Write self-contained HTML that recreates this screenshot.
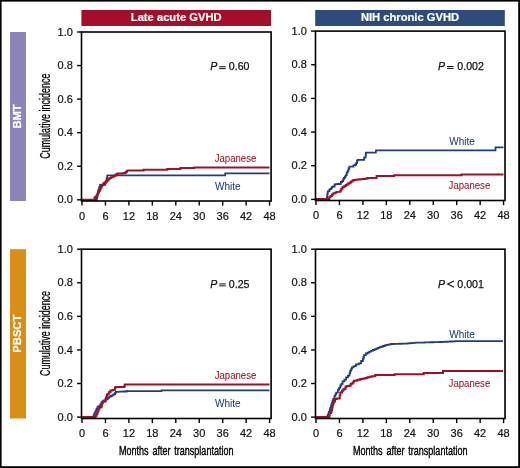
<!DOCTYPE html>
<html><head><meta charset="utf-8"><style>
html,body{margin:0;padding:0;background:#fff;width:520px;height:468px;overflow:hidden}
svg{display:block;will-change:transform}
text{font-family:"Liberation Sans", sans-serif}
.hb{font-size:11.2px;font-weight:bold;fill:#fff;stroke:#fff;stroke-width:0.2px}
.tk{font-size:11px;fill:#111;stroke:#111;stroke-width:0.2px}
.yt{font-size:14px;fill:#000;stroke:#000;stroke-width:0.25px}
.xt{font-size:13.2px;fill:#000;stroke:#000;stroke-width:0.4px;word-spacing:2px}
.pv{font-size:10.6px;fill:#111;stroke:#111;stroke-width:0.25px}
.lg{font-size:10px;stroke-width:0.05px}
</style></head><body>
<svg width="520" height="468" viewBox="0 0 520 468">
<rect x="0" y="0" width="520" height="1.6" fill="#000"/>
<rect x="0" y="0" width="1.6" height="468" fill="#000"/>
<rect x="518.2" y="0" width="1.8" height="468" fill="#000"/>
<rect x="0" y="466.2" width="520" height="1.8" fill="#000"/>
<rect x="81.4" y="10" width="189.6" height="16" fill="#a50e2b"/>
<rect x="315.2" y="10" width="189.6" height="16" fill="#2e4c7a"/>
<text x="176.2" y="21.4" text-anchor="middle" class="hb">Late acute GVHD</text>
<text x="410" y="21.4" text-anchor="middle" class="hb">NIH chronic GVHD</text>
<rect x="10" y="32" width="16" height="169" fill="#8b85b9"/>
<rect x="10" y="249.2" width="16" height="169.3" fill="#d98e16"/>
<text transform="translate(21.3 116.5) rotate(-90)" text-anchor="middle" class="hb">BMT</text>
<text transform="translate(21.3 333.7) rotate(-90)" text-anchor="middle" class="hb">PBSCT</text>
<polyline points="82.00,199.80 95.70,199.80 96.90,199.80 96.90,197.50 97.30,197.50 97.30,195.05 97.70,195.05 97.70,192.60 98.10,192.60 98.10,191.00 98.50,191.00 98.50,189.40 99.30,189.40 99.30,186.90 100.10,186.90 100.10,184.90 101.00,184.90 101.00,184.60 104.80,184.80 105.30,184.80 105.30,183.00 105.80,183.00 105.80,181.20 106.60,181.20 106.60,178.40 107.20,178.40 107.20,175.60 107.90,175.40 225.20,175.40 225.20,173.30 269.50,173.30" fill="none" stroke="#223f74" stroke-width="1.8" stroke-linejoin="miter"/>
<polyline points="82.00,199.70 94.10,199.70 94.50,199.70 94.50,197.90 95.30,197.90 95.30,196.70 96.50,196.70 96.50,195.80 97.30,195.80 97.30,194.20 98.10,194.20 98.10,192.60 98.90,192.60 98.90,191.00 99.70,191.00 99.70,189.40 100.60,189.40 100.60,187.70 101.40,187.70 101.40,186.30 102.20,186.30 102.20,184.90 103.40,184.90 103.40,183.30 104.60,183.30 104.60,182.50 105.80,182.50 105.80,181.60 107.00,181.60 107.00,180.40 108.30,180.40 108.30,179.20 109.50,179.20 109.50,178.00 111.10,178.00 111.10,177.20 112.70,177.20 112.70,176.40 114.40,176.40 114.40,175.60 116.00,175.60 116.00,174.30 117.60,174.30 117.60,173.50 120.80,173.40 122.45,173.40 122.45,173.25 124.10,173.25 124.10,173.10 125.70,173.10 125.70,171.90 126.90,171.90 126.90,170.70 128.10,170.40 143.50,170.40 143.50,169.70 167.30,169.70 167.30,168.90 180.40,168.90 180.40,168.10 194.20,168.10 194.20,167.40 269.50,167.40" fill="none" stroke="#9e1229" stroke-width="2.0" stroke-linejoin="miter"/>
<rect x="81.5" y="32.0" width="189.60000000000002" height="169.0" fill="none" stroke="#000" stroke-width="1.6"/>
<line x1="77.1" y1="199.80" x2="81.5" y2="199.80" stroke="#000" stroke-width="1.4"/>
<text x="72.9" y="203.40" text-anchor="end" class="tk">0.0</text>
<line x1="77.1" y1="166.24" x2="81.5" y2="166.24" stroke="#000" stroke-width="1.4"/>
<text x="72.9" y="169.84" text-anchor="end" class="tk">0.2</text>
<line x1="77.1" y1="132.68" x2="81.5" y2="132.68" stroke="#000" stroke-width="1.4"/>
<text x="72.9" y="136.28" text-anchor="end" class="tk">0.4</text>
<line x1="77.1" y1="99.12" x2="81.5" y2="99.12" stroke="#000" stroke-width="1.4"/>
<text x="72.9" y="102.72" text-anchor="end" class="tk">0.6</text>
<line x1="77.1" y1="65.56" x2="81.5" y2="65.56" stroke="#000" stroke-width="1.4"/>
<text x="72.9" y="69.16" text-anchor="end" class="tk">0.8</text>
<line x1="77.1" y1="32.00" x2="81.5" y2="32.00" stroke="#000" stroke-width="1.4"/>
<text x="72.9" y="35.60" text-anchor="end" class="tk">1.0</text>
<line x1="82.00" y1="201.0" x2="82.00" y2="205.6" stroke="#000" stroke-width="1.4"/>
<text x="82.00" y="219.80" text-anchor="middle" class="tk">0</text>
<line x1="105.45" y1="201.0" x2="105.45" y2="205.6" stroke="#000" stroke-width="1.4"/>
<text x="105.45" y="219.80" text-anchor="middle" class="tk">6</text>
<line x1="128.90" y1="201.0" x2="128.90" y2="205.6" stroke="#000" stroke-width="1.4"/>
<text x="128.90" y="219.80" text-anchor="middle" class="tk">12</text>
<line x1="152.34" y1="201.0" x2="152.34" y2="205.6" stroke="#000" stroke-width="1.4"/>
<text x="152.34" y="219.80" text-anchor="middle" class="tk">18</text>
<line x1="175.79" y1="201.0" x2="175.79" y2="205.6" stroke="#000" stroke-width="1.4"/>
<text x="175.79" y="219.80" text-anchor="middle" class="tk">24</text>
<line x1="199.24" y1="201.0" x2="199.24" y2="205.6" stroke="#000" stroke-width="1.4"/>
<text x="199.24" y="219.80" text-anchor="middle" class="tk">30</text>
<line x1="222.69" y1="201.0" x2="222.69" y2="205.6" stroke="#000" stroke-width="1.4"/>
<text x="222.69" y="219.80" text-anchor="middle" class="tk">36</text>
<line x1="246.14" y1="201.0" x2="246.14" y2="205.6" stroke="#000" stroke-width="1.4"/>
<text x="246.14" y="219.80" text-anchor="middle" class="tk">42</text>
<line x1="269.58" y1="201.0" x2="269.58" y2="205.6" stroke="#000" stroke-width="1.4"/>
<text x="269.58" y="219.80" text-anchor="middle" class="tk">48</text>
<polyline points="316.00,199.20 326.90,199.20 326.90,197.70 327.15,197.70 327.15,195.65 327.40,195.65 327.40,193.60 327.80,193.60 327.80,191.40 329.20,191.40 329.20,190.50 329.60,190.50 329.60,189.10 331.00,189.10 331.00,188.30 331.90,188.30 331.90,186.90 333.20,186.90 333.20,186.50 334.60,186.50 334.60,184.70 335.50,184.70 335.50,184.20 337.70,184.20 337.70,184.00 339.90,184.00 339.90,183.80 340.80,183.80 340.80,182.00 342.20,182.00 342.20,181.10 343.10,181.10 343.10,179.30 344.00,179.30 344.00,177.90 344.90,177.90 344.90,176.60 345.80,176.60 345.80,175.20 346.70,175.20 346.70,172.60 347.60,172.60 347.60,170.80 348.50,170.80 348.50,168.50 349.40,168.50 349.40,166.70 352.50,166.70 353.40,166.70 353.40,165.40 355.20,165.40 355.20,164.50 356.10,164.50 356.10,163.10 357.00,163.10 357.00,160.90 357.60,160.90 357.60,159.90 363.70,159.90 364.10,159.90 364.10,157.60 365.50,157.60 365.50,156.70 365.70,156.70 365.70,154.65 365.90,154.65 365.90,152.60 375.80,152.60 376.00,150.40 495.50,150.40 495.50,147.30 503.50,147.30" fill="none" stroke="#223f74" stroke-width="1.8" stroke-linejoin="miter"/>
<polyline points="316.00,198.90 328.30,198.90 329.20,198.90 329.20,197.20 330.50,197.20 330.50,195.90 331.90,195.90 331.90,194.50 333.20,194.50 333.20,193.60 334.60,193.60 334.60,192.70 336.30,192.70 336.30,192.10 339.50,191.80 340.40,191.80 340.40,190.50 341.30,190.50 341.30,188.70 342.60,188.70 342.60,186.90 344.40,186.90 344.40,186.00 345.80,186.00 345.80,185.10 347.10,185.10 347.10,184.20 348.50,184.20 348.50,183.30 349.80,183.30 349.80,182.40 351.10,182.40 351.10,181.50 352.50,181.50 352.50,180.60 353.80,180.60 353.80,180.00 355.60,180.00 355.60,179.80 357.40,179.80 357.40,179.60 360.10,179.60 360.10,179.35 362.80,179.35 362.80,179.10 364.55,179.10 364.55,178.85 366.30,178.85 366.30,178.60 367.70,178.60 367.70,177.90 376.60,177.90 376.60,176.00 394.00,176.00 394.00,175.20 461.50,175.20 461.50,174.40 503.50,174.40" fill="none" stroke="#9e1229" stroke-width="2.0" stroke-linejoin="miter"/>
<rect x="315.5" y="31.1" width="189.5" height="169.4" fill="none" stroke="#000" stroke-width="1.6"/>
<line x1="311.1" y1="199.40" x2="315.5" y2="199.40" stroke="#000" stroke-width="1.4"/>
<text x="306.9" y="203.00" text-anchor="end" class="tk">0.0</text>
<line x1="311.1" y1="165.74" x2="315.5" y2="165.74" stroke="#000" stroke-width="1.4"/>
<text x="306.9" y="169.34" text-anchor="end" class="tk">0.2</text>
<line x1="311.1" y1="132.08" x2="315.5" y2="132.08" stroke="#000" stroke-width="1.4"/>
<text x="306.9" y="135.68" text-anchor="end" class="tk">0.4</text>
<line x1="311.1" y1="98.42" x2="315.5" y2="98.42" stroke="#000" stroke-width="1.4"/>
<text x="306.9" y="102.02" text-anchor="end" class="tk">0.6</text>
<line x1="311.1" y1="64.76" x2="315.5" y2="64.76" stroke="#000" stroke-width="1.4"/>
<text x="306.9" y="68.36" text-anchor="end" class="tk">0.8</text>
<line x1="311.1" y1="31.10" x2="315.5" y2="31.10" stroke="#000" stroke-width="1.4"/>
<text x="306.9" y="34.70" text-anchor="end" class="tk">1.0</text>
<line x1="316.00" y1="200.5" x2="316.00" y2="205.1" stroke="#000" stroke-width="1.4"/>
<text x="316.00" y="219.30" text-anchor="middle" class="tk">0</text>
<line x1="339.45" y1="200.5" x2="339.45" y2="205.1" stroke="#000" stroke-width="1.4"/>
<text x="339.45" y="219.30" text-anchor="middle" class="tk">6</text>
<line x1="362.90" y1="200.5" x2="362.90" y2="205.1" stroke="#000" stroke-width="1.4"/>
<text x="362.90" y="219.30" text-anchor="middle" class="tk">12</text>
<line x1="386.34" y1="200.5" x2="386.34" y2="205.1" stroke="#000" stroke-width="1.4"/>
<text x="386.34" y="219.30" text-anchor="middle" class="tk">18</text>
<line x1="409.79" y1="200.5" x2="409.79" y2="205.1" stroke="#000" stroke-width="1.4"/>
<text x="409.79" y="219.30" text-anchor="middle" class="tk">24</text>
<line x1="433.24" y1="200.5" x2="433.24" y2="205.1" stroke="#000" stroke-width="1.4"/>
<text x="433.24" y="219.30" text-anchor="middle" class="tk">30</text>
<line x1="456.69" y1="200.5" x2="456.69" y2="205.1" stroke="#000" stroke-width="1.4"/>
<text x="456.69" y="219.30" text-anchor="middle" class="tk">36</text>
<line x1="480.14" y1="200.5" x2="480.14" y2="205.1" stroke="#000" stroke-width="1.4"/>
<text x="480.14" y="219.30" text-anchor="middle" class="tk">42</text>
<line x1="503.58" y1="200.5" x2="503.58" y2="205.1" stroke="#000" stroke-width="1.4"/>
<text x="503.58" y="219.30" text-anchor="middle" class="tk">48</text>
<polyline points="82.00,417.10 92.60,417.10 92.90,417.10 92.90,416.60 93.80,416.60 93.80,414.40 94.70,414.40 94.70,412.60 95.60,412.60 95.60,410.80 96.50,410.80 96.50,409.00 97.40,409.00 97.40,407.20 98.30,407.20 98.30,406.30 99.70,406.30 99.70,405.40 100.60,405.40 100.60,404.10 101.50,404.10 101.50,402.30 102.40,402.30 102.40,401.40 103.70,401.40 103.70,400.50 105.50,400.50 105.50,399.30 107.80,399.30 107.80,397.80 109.10,397.80 109.10,396.90 110.50,396.90 110.50,396.00 112.30,396.00 112.30,395.10 113.60,395.10 113.60,394.20 115.00,394.20 115.00,392.80 115.90,392.80 115.90,391.90 118.50,391.90 120.30,391.70 123.90,391.50 126.60,391.50 126.60,391.00 129.30,391.10 161.50,391.10 161.50,390.40 269.50,390.40" fill="none" stroke="#223f74" stroke-width="1.8" stroke-linejoin="miter"/>
<polyline points="82.00,417.10 94.70,417.10 95.60,417.10 95.60,415.70 96.50,415.70 96.50,413.90 97.40,413.90 97.40,411.70 98.30,411.70 98.30,409.40 99.20,409.40 99.20,407.60 100.60,407.60 100.60,407.20 101.50,407.20 101.50,405.40 101.90,405.40 101.90,403.20 102.80,403.20 102.80,401.80 104.20,401.80 104.20,401.40 105.50,401.40 105.50,399.60 105.95,399.60 105.95,398.00 106.40,398.00 106.40,396.40 106.90,396.40 106.90,394.60 108.20,394.60 108.20,393.70 109.10,393.70 109.10,391.90 110.50,391.90 110.50,390.60 112.30,390.60 112.30,390.10 113.60,390.10 113.60,389.70 115.00,389.70 115.00,387.90 115.40,387.90 115.40,387.00 123.00,387.00 123.90,387.00 123.90,386.50 124.80,386.50 124.80,384.50 269.50,384.50" fill="none" stroke="#9e1229" stroke-width="2.0" stroke-linejoin="miter"/>
<rect x="81.5" y="249.2" width="189.60000000000002" height="169.3" fill="none" stroke="#000" stroke-width="1.6"/>
<line x1="77.1" y1="417.10" x2="81.5" y2="417.10" stroke="#000" stroke-width="1.4"/>
<text x="72.9" y="420.70" text-anchor="end" class="tk">0.0</text>
<line x1="77.1" y1="383.52" x2="81.5" y2="383.52" stroke="#000" stroke-width="1.4"/>
<text x="72.9" y="387.12" text-anchor="end" class="tk">0.2</text>
<line x1="77.1" y1="349.94" x2="81.5" y2="349.94" stroke="#000" stroke-width="1.4"/>
<text x="72.9" y="353.54" text-anchor="end" class="tk">0.4</text>
<line x1="77.1" y1="316.36" x2="81.5" y2="316.36" stroke="#000" stroke-width="1.4"/>
<text x="72.9" y="319.96" text-anchor="end" class="tk">0.6</text>
<line x1="77.1" y1="282.78" x2="81.5" y2="282.78" stroke="#000" stroke-width="1.4"/>
<text x="72.9" y="286.38" text-anchor="end" class="tk">0.8</text>
<line x1="77.1" y1="249.20" x2="81.5" y2="249.20" stroke="#000" stroke-width="1.4"/>
<text x="72.9" y="252.80" text-anchor="end" class="tk">1.0</text>
<line x1="82.00" y1="418.5" x2="82.00" y2="423.1" stroke="#000" stroke-width="1.4"/>
<text x="82.00" y="437.30" text-anchor="middle" class="tk">0</text>
<line x1="105.45" y1="418.5" x2="105.45" y2="423.1" stroke="#000" stroke-width="1.4"/>
<text x="105.45" y="437.30" text-anchor="middle" class="tk">6</text>
<line x1="128.90" y1="418.5" x2="128.90" y2="423.1" stroke="#000" stroke-width="1.4"/>
<text x="128.90" y="437.30" text-anchor="middle" class="tk">12</text>
<line x1="152.34" y1="418.5" x2="152.34" y2="423.1" stroke="#000" stroke-width="1.4"/>
<text x="152.34" y="437.30" text-anchor="middle" class="tk">18</text>
<line x1="175.79" y1="418.5" x2="175.79" y2="423.1" stroke="#000" stroke-width="1.4"/>
<text x="175.79" y="437.30" text-anchor="middle" class="tk">24</text>
<line x1="199.24" y1="418.5" x2="199.24" y2="423.1" stroke="#000" stroke-width="1.4"/>
<text x="199.24" y="437.30" text-anchor="middle" class="tk">30</text>
<line x1="222.69" y1="418.5" x2="222.69" y2="423.1" stroke="#000" stroke-width="1.4"/>
<text x="222.69" y="437.30" text-anchor="middle" class="tk">36</text>
<line x1="246.14" y1="418.5" x2="246.14" y2="423.1" stroke="#000" stroke-width="1.4"/>
<text x="246.14" y="437.30" text-anchor="middle" class="tk">42</text>
<line x1="269.58" y1="418.5" x2="269.58" y2="423.1" stroke="#000" stroke-width="1.4"/>
<text x="269.58" y="437.30" text-anchor="middle" class="tk">48</text>
<polyline points="316.00,417.10 327.00,417.10 327.30,417.10 327.30,416.20 327.90,416.20 327.90,414.30 328.80,414.30 328.80,411.95 329.70,411.95 329.70,409.60 330.30,409.60 330.30,407.85 330.90,407.85 330.90,406.10 331.45,406.10 331.45,404.35 332.00,404.35 332.00,402.60 332.60,402.60 332.60,400.80 333.20,400.80 333.20,399.00 334.40,399.00 334.40,396.10 335.30,396.10 335.30,394.35 336.20,394.35 336.20,392.60 337.90,392.60 337.90,389.60 339.10,389.60 339.10,387.90 340.30,387.90 340.30,385.50 341.40,385.50 341.40,383.80 342.60,383.80 342.60,381.40 344.40,381.40 344.40,379.70 346.10,379.70 346.10,377.30 347.90,377.30 347.90,375.60 349.60,375.60 349.60,373.20 350.20,373.20 350.20,370.80 351.05,370.80 351.05,369.05 351.90,369.05 351.90,367.30 353.70,367.30 353.70,366.10 356.00,366.10 356.00,364.40 358.80,364.40 358.80,363.30 361.10,363.30 361.10,361.00 362.90,361.00 362.90,359.20 363.45,359.20 363.45,357.20 364.00,357.20 364.00,355.20 365.80,355.20 365.80,353.50 367.50,353.50 367.50,352.60 369.20,352.60 369.20,351.70 370.95,351.70 370.95,350.85 372.70,350.85 372.70,350.00 374.40,350.00 374.40,349.30 376.10,349.30 376.10,348.60 377.85,348.60 377.85,347.85 379.60,347.85 379.60,347.10 381.35,347.10 381.35,346.55 383.10,346.55 383.10,346.00 384.80,346.00 384.80,345.40 386.50,345.40 386.50,344.80 388.80,344.80 388.80,344.40 391.10,344.40 391.10,344.00 393.88,344.00 393.88,343.92 396.66,343.92 396.66,343.84 399.44,343.84 399.44,343.76 402.22,343.76 402.22,343.68 405.00,343.68 405.00,343.60 407.50,343.60 407.50,343.33 410.00,343.33 410.00,343.07 412.50,343.07 412.50,342.80 415.50,342.80 415.50,342.71 418.50,342.71 418.50,342.62 421.50,342.62 421.50,342.53 424.50,342.53 424.50,342.44 427.50,342.44 427.50,342.35 430.50,342.35 430.50,342.26 433.50,342.26 433.50,342.17 436.50,342.17 436.50,342.08 439.50,342.08 439.50,341.99 442.50,341.99 442.50,341.90 445.00,341.90 445.00,341.76 447.50,341.76 447.50,341.62 450.00,341.62 450.00,341.48 452.50,341.48 452.50,341.34 455.00,341.34 455.00,341.20 503.00,341.10" fill="none" stroke="#223f74" stroke-width="1.8" stroke-linejoin="miter"/>
<polyline points="316.00,417.10 329.10,417.10 329.40,417.10 329.40,415.10 329.70,415.10 329.70,413.10 330.90,413.10 330.90,411.90 331.45,411.90 331.45,410.15 332.00,410.15 332.00,408.40 332.30,408.40 332.30,406.65 332.60,406.65 332.60,404.90 333.20,404.90 333.20,403.15 333.80,403.15 333.80,401.40 335.00,401.40 335.00,399.00 336.70,399.00 336.70,398.50 338.50,398.50 339.70,398.50 339.70,395.50 340.30,395.50 340.30,392.60 342.00,392.60 342.00,390.80 343.20,390.80 343.20,389.60 344.40,389.60 344.40,389.10 345.50,389.10 345.50,386.70 346.70,386.70 346.70,386.10 349.60,386.10 349.60,385.50 350.80,385.50 350.80,383.80 352.60,383.80 352.60,382.60 353.80,382.60 353.80,380.80 356.70,380.80 356.70,380.30 357.90,380.30 357.90,379.70 360.20,379.70 360.20,379.10 361.95,379.10 361.95,378.80 363.70,378.80 363.70,378.50 365.50,378.50 365.50,377.90 367.55,377.90 367.55,377.30 369.60,377.30 369.60,376.70 371.90,376.70 371.90,376.20 374.90,376.20 374.90,375.60 375.50,375.60 375.50,375.00 394.60,375.00 394.60,374.20 423.75,374.20 423.75,373.00 443.00,373.00 443.00,371.10 503.00,371.10" fill="none" stroke="#9e1229" stroke-width="2.0" stroke-linejoin="miter"/>
<rect x="315.5" y="249.2" width="189.5" height="169.3" fill="none" stroke="#000" stroke-width="1.6"/>
<line x1="311.1" y1="417.10" x2="315.5" y2="417.10" stroke="#000" stroke-width="1.4"/>
<text x="306.9" y="420.70" text-anchor="end" class="tk">0.0</text>
<line x1="311.1" y1="383.52" x2="315.5" y2="383.52" stroke="#000" stroke-width="1.4"/>
<text x="306.9" y="387.12" text-anchor="end" class="tk">0.2</text>
<line x1="311.1" y1="349.94" x2="315.5" y2="349.94" stroke="#000" stroke-width="1.4"/>
<text x="306.9" y="353.54" text-anchor="end" class="tk">0.4</text>
<line x1="311.1" y1="316.36" x2="315.5" y2="316.36" stroke="#000" stroke-width="1.4"/>
<text x="306.9" y="319.96" text-anchor="end" class="tk">0.6</text>
<line x1="311.1" y1="282.78" x2="315.5" y2="282.78" stroke="#000" stroke-width="1.4"/>
<text x="306.9" y="286.38" text-anchor="end" class="tk">0.8</text>
<line x1="311.1" y1="249.20" x2="315.5" y2="249.20" stroke="#000" stroke-width="1.4"/>
<text x="306.9" y="252.80" text-anchor="end" class="tk">1.0</text>
<line x1="316.00" y1="418.5" x2="316.00" y2="423.1" stroke="#000" stroke-width="1.4"/>
<text x="316.00" y="437.30" text-anchor="middle" class="tk">0</text>
<line x1="339.45" y1="418.5" x2="339.45" y2="423.1" stroke="#000" stroke-width="1.4"/>
<text x="339.45" y="437.30" text-anchor="middle" class="tk">6</text>
<line x1="362.90" y1="418.5" x2="362.90" y2="423.1" stroke="#000" stroke-width="1.4"/>
<text x="362.90" y="437.30" text-anchor="middle" class="tk">12</text>
<line x1="386.34" y1="418.5" x2="386.34" y2="423.1" stroke="#000" stroke-width="1.4"/>
<text x="386.34" y="437.30" text-anchor="middle" class="tk">18</text>
<line x1="409.79" y1="418.5" x2="409.79" y2="423.1" stroke="#000" stroke-width="1.4"/>
<text x="409.79" y="437.30" text-anchor="middle" class="tk">24</text>
<line x1="433.24" y1="418.5" x2="433.24" y2="423.1" stroke="#000" stroke-width="1.4"/>
<text x="433.24" y="437.30" text-anchor="middle" class="tk">30</text>
<line x1="456.69" y1="418.5" x2="456.69" y2="423.1" stroke="#000" stroke-width="1.4"/>
<text x="456.69" y="437.30" text-anchor="middle" class="tk">36</text>
<line x1="480.14" y1="418.5" x2="480.14" y2="423.1" stroke="#000" stroke-width="1.4"/>
<text x="480.14" y="437.30" text-anchor="middle" class="tk">42</text>
<line x1="503.58" y1="418.5" x2="503.58" y2="423.1" stroke="#000" stroke-width="1.4"/>
<text x="503.58" y="437.30" text-anchor="middle" class="tk">48</text>
<text transform="translate(50.3 116.2) rotate(-90) scale(0.64 1)" text-anchor="middle" class="yt">Cumulative incidence</text>
<text transform="translate(50.3 333.5) rotate(-90) scale(0.64 1)" text-anchor="middle" class="yt">Cumulative incidence</text>
<text transform="translate(176.2 454.5) scale(0.684 1)" text-anchor="middle" class="xt">Months after transplantation</text>
<text transform="translate(410.2 454.5) scale(0.684 1)" text-anchor="middle" class="xt">Months after transplantation</text>
<text x="210.2" y="70.3" class="pv"><tspan font-style="italic">P</tspan></text>
<line x1="219.20" y1="66.75" x2="225.70" y2="66.75" stroke="#111" stroke-width="1.0"/>
<line x1="219.20" y1="68.65" x2="225.70" y2="68.65" stroke="#111" stroke-width="1.0"/>
<text x="228.79999999999998" y="70.3" class="pv">0.60</text>
<text x="438.0" y="69.9" class="pv"><tspan font-style="italic">P</tspan></text>
<line x1="447.00" y1="66.50" x2="453.50" y2="66.50" stroke="#111" stroke-width="1.0"/>
<line x1="447.00" y1="68.40" x2="453.50" y2="68.40" stroke="#111" stroke-width="1.0"/>
<text x="457.3" y="69.9" class="pv">0.002</text>
<text x="210.2" y="288.0" class="pv"><tspan font-style="italic">P</tspan></text>
<line x1="219.20" y1="283.95" x2="225.70" y2="283.95" stroke="#111" stroke-width="1.0"/>
<line x1="219.20" y1="285.85" x2="225.70" y2="285.85" stroke="#111" stroke-width="1.0"/>
<text x="228.79999999999998" y="288.0" class="pv">0.25</text>
<text x="438.0" y="288.0" class="pv"><tspan font-style="italic">P</tspan></text>
<polyline points="454.00,280.90 447.60,284.10 454.00,287.30" fill="none" stroke="#111" stroke-width="1.1" stroke-linejoin="miter"/>
<text x="457.3" y="288.0" class="pv">0.001</text>
<text transform="translate(214.7 161.8) scale(0.96 1)" class="lg" fill="#9e1229" stroke="#9e1229">Japanese</text>
<text x="215.0" y="190.1" class="lg" fill="#223f74" stroke="#223f74">White</text>
<text x="449.29999999999995" y="145.4" class="lg" fill="#223f74" stroke="#223f74">White</text>
<text transform="translate(448.6 189.0) scale(0.96 1)" class="lg" fill="#9e1229" stroke="#9e1229">Japanese</text>
<text transform="translate(214.7 379.1) scale(0.96 1)" class="lg" fill="#9e1229" stroke="#9e1229">Japanese</text>
<text x="215.0" y="406.7" class="lg" fill="#223f74" stroke="#223f74">White</text>
<text x="449.2" y="338.0" class="lg" fill="#223f74" stroke="#223f74">White</text>
<text transform="translate(448.6 386.6) scale(0.96 1)" class="lg" fill="#9e1229" stroke="#9e1229">Japanese</text>
</svg>
</body></html>
